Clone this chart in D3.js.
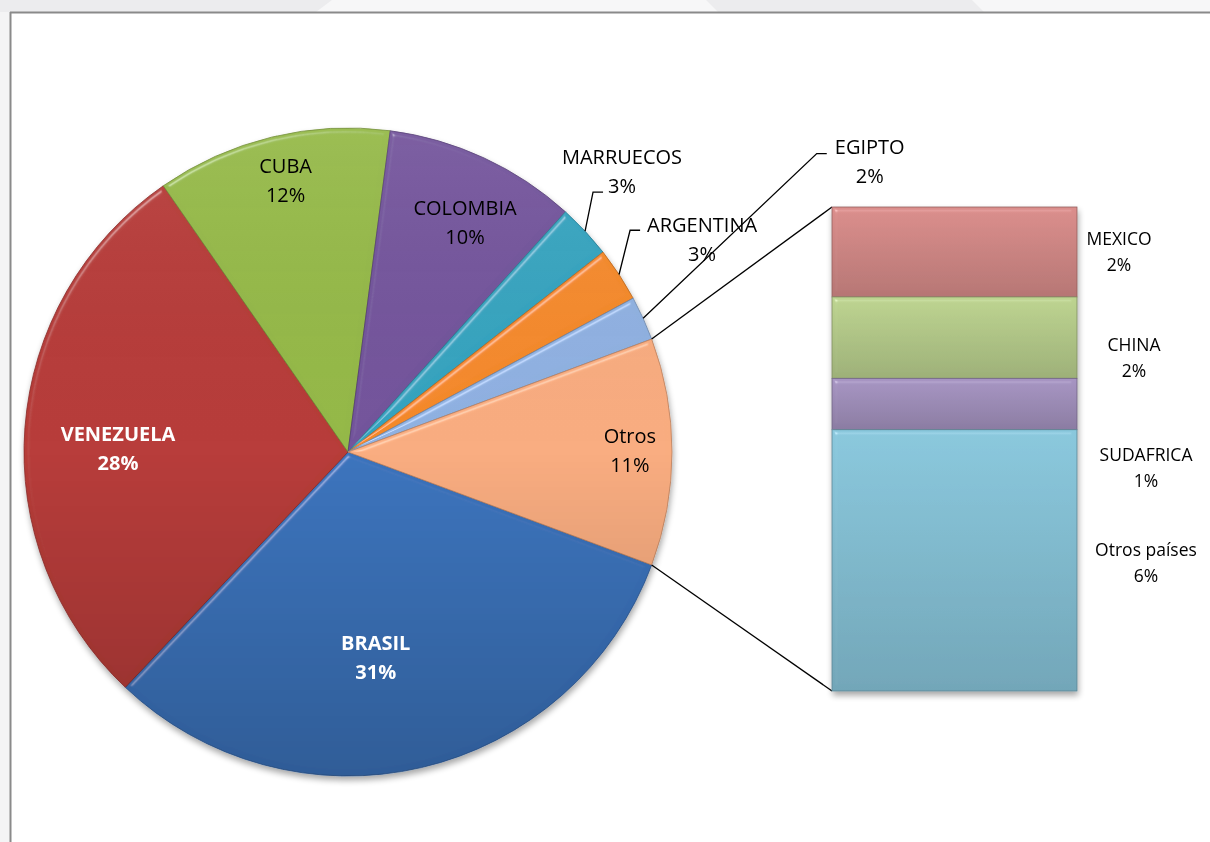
<!DOCTYPE html>
<html>
<head>
<meta charset="utf-8">
<script src="https://cdn.jsdelivr.net/npm/d3@7"></script>
<style>
  body { margin: 0; background: #ffffff; }
  svg { display: block; }
</style>
</head>
<body>
<div class="chart"></div>
<script>
// pie slices, clockwise from the bottom of "Otros"
const countries = ["BRASIL", "VENEZUELA", "CUBA", "COLOMBIA", "MARRUECOS", "ARGENTINA", "EGIPTO", "Otros"];
const shares = [31.3, 28.2, 11.7, 9.6, 2.7, 2.7, 2.2, 11.3];
const pieColors = ["#3b73bd", "#b73c39", "#95b948", "#73549c", "#35a4c0", "#f58a2c", "#90b2e2", "#f9ad80"];

// breakdown of "Otros" in the bar
const otherCountries = ["MEXICO", "CHINA", "SUDAFRICA", "Otros países"];
const otherShares = [2.1, 1.9, 1.2, 6.1];
const barColors = ["#d28886", "#b5cb8a", "#a08fbb", "#84c0d4"];

const width = 1210, height = 842;
const cx = 348, cy = 452, R = 324;

const svg = d3.select(".chart").append("svg")
    .attr("width", width)
    .attr("height", height)
    .style("font-family", "'Open Sans', 'Noto Sans', sans-serif");

const defs = svg.append("defs");

// drop shadow
const sh = defs.append("filter").attr("id", "shadow")
    .attr("x", "-10%").attr("y", "-10%").attr("width", "120%").attr("height", "120%");
sh.append("feGaussianBlur").attr("in", "SourceAlpha").attr("stdDeviation", 3).attr("result", "b");
sh.append("feOffset").attr("in", "b").attr("dx", 1).attr("dy", 4).attr("result", "o");
sh.append("feComponentTransfer").attr("in", "o").attr("result", "s")
  .append("feFuncA").attr("type", "linear").attr("slope", 0.35);
const shm = sh.append("feMerge");
shm.append("feMergeNode").attr("in", "s");
shm.append("feMergeNode").attr("in", "SourceGraphic");

// bevel look: highlight only near the edges
const bv = defs.append("filter").attr("id", "bevel")
    .attr("x", "-5%").attr("y", "-5%").attr("width", "110%").attr("height", "110%");
bv.append("feGaussianBlur").attr("in", "SourceAlpha").attr("stdDeviation", 2.5).attr("result", "blur");
bv.append("feSpecularLighting").attr("in", "blur").attr("surfaceScale", 4)
    .attr("specularConstant", 0.6).attr("specularExponent", 45)
    .attr("lighting-color", "#ffffff").attr("result", "spec")
  .append("feDistantLight").attr("azimuth", 235).attr("elevation", 40);
bv.append("feComposite").attr("in", "spec").attr("in2", "SourceAlpha").attr("operator", "in").attr("result", "specIn");
bv.append("feComposite").attr("in", "SourceGraphic").attr("in2", "specIn")
    .attr("operator", "arithmetic").attr("k1", 0).attr("k2", 1).attr("k3", 0.45).attr("k4", 0);

// vertical shading
const shade = defs.append("linearGradient").attr("id", "shade")
    .attr("x1", 0).attr("y1", 0).attr("x2", 0).attr("y2", 1);
shade.append("stop").attr("offset", "0%").attr("stop-color", "#ffffff").attr("stop-opacity", 0.06);
shade.append("stop").attr("offset", "50%").attr("stop-color", "#000000").attr("stop-opacity", 0.0);
shade.append("stop").attr("offset", "100%").attr("stop-color", "#000000").attr("stop-opacity", 0.2);

// page frame
svg.append("rect").attr("x", 0).attr("y", 0).attr("width", width).attr("height", 12).attr("fill", "#ececee");
svg.append("path").attr("d", "M332,0 L706,0 L718,12 L316,12 Z").attr("fill", "#f7f7f8");
svg.append("path").attr("d", "M972,0 L1210,0 L1210,12 L984,12 Z").attr("fill", "#f7f7f8");
svg.append("rect").attr("x", 0).attr("y", 12).attr("width", 10).attr("height", height - 12).attr("fill", "#f4f4f5");
svg.append("line").attr("x1", 10).attr("x2", width).attr("y1", 12.5).attr("y2", 12.5)
    .attr("stroke", "#8a8a8a").attr("stroke-width", 2);
svg.append("line").attr("x1", 10.5).attr("x2", 10.5).attr("y1", 12).attr("y2", height)
    .attr("stroke", "#8a8a8a").attr("stroke-width", 2);

// pie
const total = d3.sum(shares);
const otrosHalf = shares[shares.length - 1] / total * Math.PI;
const start = Math.PI / 2 + otrosHalf;
const pie = d3.pie().sort(null).value(d => d)
    .startAngle(start).endAngle(start + 2 * Math.PI);
const arcs = pie(shares);
const arc = d3.arc().innerRadius(0).outerRadius(R);

const gPie = svg.append("g").attr("transform", `translate(${cx},${cy})`);
const gShadow = gPie.append("g").attr("filter", "url(#shadow)");
gShadow.selectAll("path.slice")
  .data(arcs)
  .join("path")
    .attr("class", "slice")
    .attr("d", arc)
    .attr("fill", (d, i) => pieColors[i])
    .attr("stroke", (d, i) => d3.color(pieColors[i]).darker(0.8))
    .attr("stroke-width", 0.8)
    .attr("filter", "url(#bevel)");
gPie.append("circle").attr("r", R).attr("fill", "url(#shade)").attr("pointer-events", "none");

// lines from "Otros" to the bar
const x0 = 832, x1 = 1077;
const yBar = d3.scaleLinear().domain([0, d3.sum(otherShares)]).range([207, 691]);
const otrosArc = arcs[arcs.length - 1];
const edge = a => [cx + R * Math.sin(a), cy - R * Math.cos(a)];
const pTop = edge(otrosArc.startAngle), pBot = edge(otrosArc.endAngle);
svg.append("line").attr("x1", pTop[0]).attr("y1", pTop[1]).attr("x2", x0).attr("y2", yBar(0))
    .attr("stroke", "#000").attr("stroke-width", 1.3);
svg.append("line").attr("x1", pBot[0]).attr("y1", pBot[1]).attr("x2", x0).attr("y2", yBar(d3.sum(otherShares)))
    .attr("stroke", "#000").attr("stroke-width", 1.3);

// bar of "Otros"
const cum = d3.cumsum(otherShares);
const segs = otherShares.map((v, i) => ({name: otherCountries[i], v, y0: cum[i] - v, y1: cum[i]}));
const barGrads = segs.map((s, i) => {
  const g = defs.append("linearGradient").attr("id", "bg" + i)
      .attr("x1", 0).attr("y1", 0).attr("x2", 0).attr("y2", 1);
  g.append("stop").attr("offset", "0%").attr("stop-color", d3.color(barColors[i]).brighter(0.12));
  g.append("stop").attr("offset", "100%").attr("stop-color", d3.color(barColors[i]).darker(0.4));
  return "url(#bg" + i + ")";
});
const gBar = svg.append("g").attr("filter", "url(#shadow)");
gBar.selectAll("rect")
  .data(segs)
  .join("rect")
    .attr("x", x0)
    .attr("y", d => yBar(d.y0))
    .attr("width", x1 - x0)
    .attr("height", d => yBar(d.y1) - yBar(d.y0))
    .attr("fill", (d, i) => barGrads[i])
    .attr("stroke", (d, i) => d3.color(barColors[i]).darker(1))
    .attr("stroke-width", 0.8)
    .attr("filter", "url(#bevel)");

// labels
const pct = v => Math.round(v) + "%";
function twoLines(g, x, y, a, b, size, gap, opts = {}) {
  const t = g.append("text")
      .attr("text-anchor", "middle")
      .attr("font-size", size)
      .attr("font-weight", opts.bold ? "bold" : "normal")
      .attr("fill", opts.color || "#000");
  t.append("tspan").attr("x", x).attr("y", y - gap / 2).attr("dy", "0.35em").text(a);
  t.append("tspan").attr("x", x).attr("y", y + gap / 2).attr("dy", "0.35em").text(b);
}

// inside labels: [radius fraction, angle shift in degrees]
const inside = {
  "BRASIL": [0.64, 5.4, true],
  "VENEZUELA": [0.71, -3.5, true],
  "CUBA": [0.86, 0.7],
  "COLOMBIA": [0.795, 2.2],
  "Otros": [0.87, -0.4]
};
// outside labels: [radius fraction, angle deg, leader end dx, dy from text centre]
const outside = {
  "MARRUECOS": [1.211, 44.3, -19, 21],
  "ARGENTINA": [1.275, 59.0, -62, -9],
  "EGIPTO": [1.843, 60.9, -43, -8]
};
const toRad = Math.PI / 180;
arcs.forEach((d, i) => {
  const name = countries[i];
  const mid = (d.startAngle + d.endAngle) / 2;
  if (inside[name]) {
    const [rf, shift, bold] = inside[name];
    const a = mid + shift * toRad;
    twoLines(svg, cx + rf * R * Math.sin(a), cy - rf * R * Math.cos(a), name, pct(shares[i]),
      20, 29, bold ? {bold: true, color: "#ffffff"} : {});
  } else if (outside[name]) {
    const [rf, ang, ex, ey] = outside[name];
    const tx = cx + rf * R * Math.sin(ang * toRad), ty = cy - rf * R * Math.cos(ang * toRad);
    const s = edge(mid);
    const e = [tx + ex, ty + ey];
    svg.append("path")
        .attr("d", `M${s[0]},${s[1]}L${e[0] - 10},${e[1]}L${e[0]},${e[1]}`)
        .attr("fill", "none").attr("stroke", "#000").attr("stroke-width", 1.3);
    twoLines(svg, tx, ty, name, pct(shares[i]), 20, 29);
  }
});

// bar labels: x offset from bar edge, y offset from segment centre
const barLabelDx = [42, 57, 69, 69];
const barLabelDy = [0, 20, 64, 3];
segs.forEach((s, i) => {
  twoLines(svg, x1 + barLabelDx[i], yBar((s.y0 + s.y1) / 2) + barLabelDy[i], s.name, pct(s.v), 17.5, 26);
});
</script>
</body>
</html>
